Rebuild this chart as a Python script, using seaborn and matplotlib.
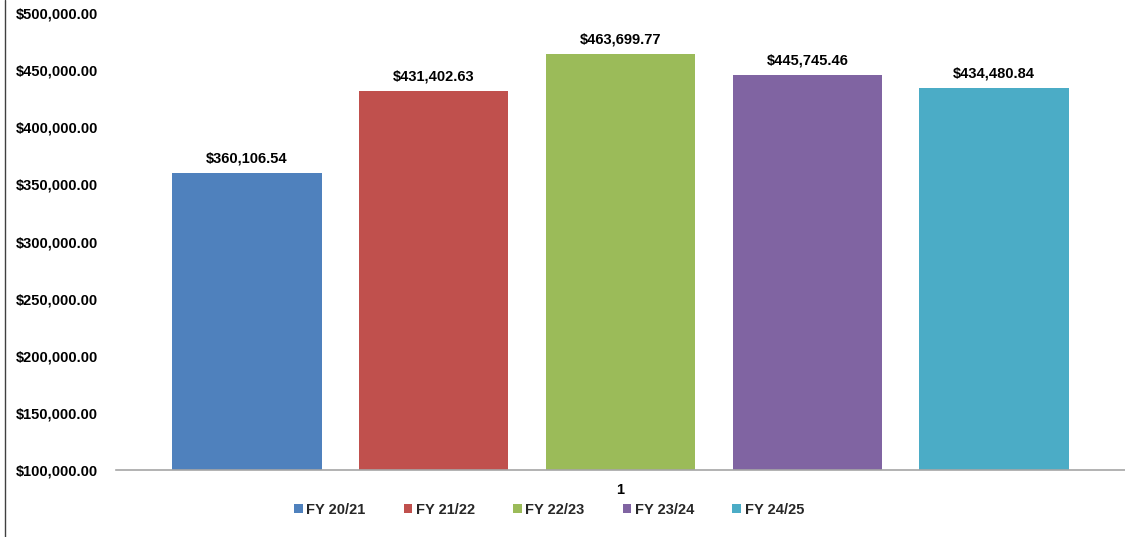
import matplotlib
matplotlib.use("Agg")
import matplotlib.pyplot as plt
import seaborn as sns
import pandas as pd
from matplotlib.patches import Patch
from matplotlib.lines import Line2D
from matplotlib.ticker import FuncFormatter

categories = ["1"] * 5
series = ["FY 20/21", "FY 21/22", "FY 22/23", "FY 23/24", "FY 24/25"]
values = [360106.54, 431402.63, 463699.77, 445745.46, 434480.84]
colors = ["#4F81BD", "#C0504D", "#9BBB59", "#8064A2", "#4BACC6"]
yticks = [100000, 150000, 200000, 250000, 300000, 350000, 400000, 450000, 500000]

sns.set_theme(style="white")
plt.rcParams['font.family'] = ['Liberation Sans', 'DejaVu Sans']
plt.rcParams['font.weight'] = 'bold'
FS = 10.5

df = pd.DataFrame({"cat": categories, "series": series, "value": values})

fig = plt.figure(figsize=(11.25, 5.37), dpi=100)
ax = fig.add_axes([116 / 1125, 1 - 470 / 537, 1 - 116 / 1125, (470 - 13) / 537])

sns.barplot(data=df, x="cat", y="value", hue="series", hue_order=series,
            palette=colors, width=0.926, gap=0.2, saturation=1, legend=False, ax=ax,
            edgecolor="none", linewidth=0)

ax.set_ylim(100000, 500000)
ax.set_yticks(yticks)
ax.yaxis.set_major_formatter(FuncFormatter(lambda v, p: "${:,.2f}".format(v)))
ax.set_xlim(-0.5, 0.5)
ax.set_xlabel("")
ax.set_ylabel("")
ax.tick_params(axis="y", length=0, pad=13, labelsize=FS)
ax.tick_params(axis="x", length=0, pad=9, labelsize=FS)
for lab in ax.get_yticklabels() + ax.get_xticklabels():
    lab.set_fontweight("bold")
    lab.set_color("black")

for s in ["top", "right", "left"]:
    ax.spines[s].set_visible(False)
ax.spines["bottom"].set_color("#A6A6A6")
ax.spines["bottom"].set_linewidth(1.2)
ax.grid(False)

for cont in ax.containers:
    ax.bar_label(cont, labels=["${:,.2f}".format(b.get_height()) for b in cont],
                 padding=5.5, fontsize=FS, fontweight="bold", color="black")

handles = [Patch(facecolor=c, edgecolor="none", label=s) for c, s in zip(colors, series)]
fig.legend(handles=handles, loc="center", bbox_to_anchor=(549 / 1125, 1 - 510 / 537),
           ncol=5, frameon=False, prop={"size": FS, "weight": "bold"},
           handlelength=0.6, handleheight=0.6, handletextpad=0.25, columnspacing=2.6)

fig.add_artist(Line2D([4.5 / 1125, 4.5 / 1125], [0, 1], transform=fig.transFigure,
                      color="#404040", linewidth=1.0))

fig.savefig("out.png", dpi=100)
